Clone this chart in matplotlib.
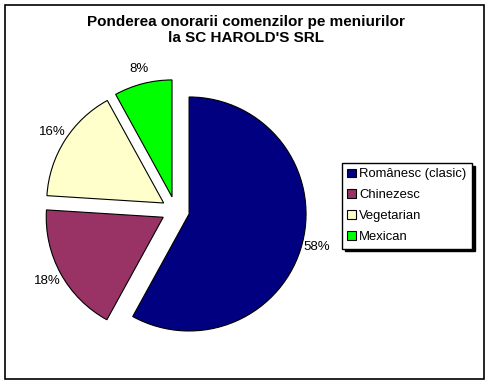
import matplotlib
matplotlib.use("Agg")
import matplotlib.pyplot as plt
from matplotlib.patches import Rectangle, Patch
import numpy as np

plt.rcParams['font.family'] = ['Liberation Sans', 'DejaVu Sans']

categories = ["Românesc (clasic)", "Chinezesc", "Vegetarian", "Mexican"]
values = [58, 18, 16, 8]
colors = ["#000080", "#993366", "#FFFFCC", "#00FF00"]
title_lines = ["Ponderea onorarii comenzilor pe meniurilor", "la SC HAROLD'S SRL"]

W, H = 490, 384
fig = plt.figure(figsize=(W / 100, H / 100), dpi=100)
ax = fig.add_axes([0, 0, 1, 1])

# outer border
fig.patches.append(Rectangle((5 / W, 1 - 379 / H), (484 - 5) / W, (379 - 5) / H,
                             transform=fig.transFigure, fill=False,
                             edgecolor='black', linewidth=1.2))

cx, cy = 175.5, H - 210.5
r = 117
ex = 14
ax.pie(values, colors=colors, startangle=90, counterclock=False,
       explode=[ex] * len(values), center=(cx, cy), radius=r,
       wedgeprops=dict(edgecolor='black', linewidth=0.8), frame=True)
ax.set_xlim(0, W)
ax.set_ylim(0, H)
ax.set_aspect('equal')
ax.axis('off')

total = sum(values)
ang = 90.0
for v in values:
    frac = v / total
    mid = np.deg2rad(ang - frac * 360 / 2)
    ang -= frac * 360
    d = ex + r * 1.13
    ax.text(cx + d * np.cos(mid), cy + d * np.sin(mid), f"{v}%",
            ha='center', va='center', fontsize=9.5)

fig.text(246 / W, 1 - 30 / H, "\n".join(title_lines), ha='center', va='center',
         fontsize=11, fontweight='bold', linespacing=1.2)

handles = [Patch(facecolor=c, edgecolor='black', linewidth=0.8) for c in colors]
leg = fig.legend(handles, categories, loc='upper left',
                 bbox_to_anchor=(342 / W, 1 - 163 / H), fontsize=9.4,
                 frameon=True, fancybox=False, handlelength=0.65, handleheight=0.65,
                 handletextpad=0.25, borderpad=0.42, labelspacing=0.68,
                 borderaxespad=0, shadow={'color': 'black', 'alpha': 1})
leg.get_frame().set_edgecolor('black')
leg.get_frame().set_linewidth(1.0)

fig.savefig("out.png", dpi=100)
